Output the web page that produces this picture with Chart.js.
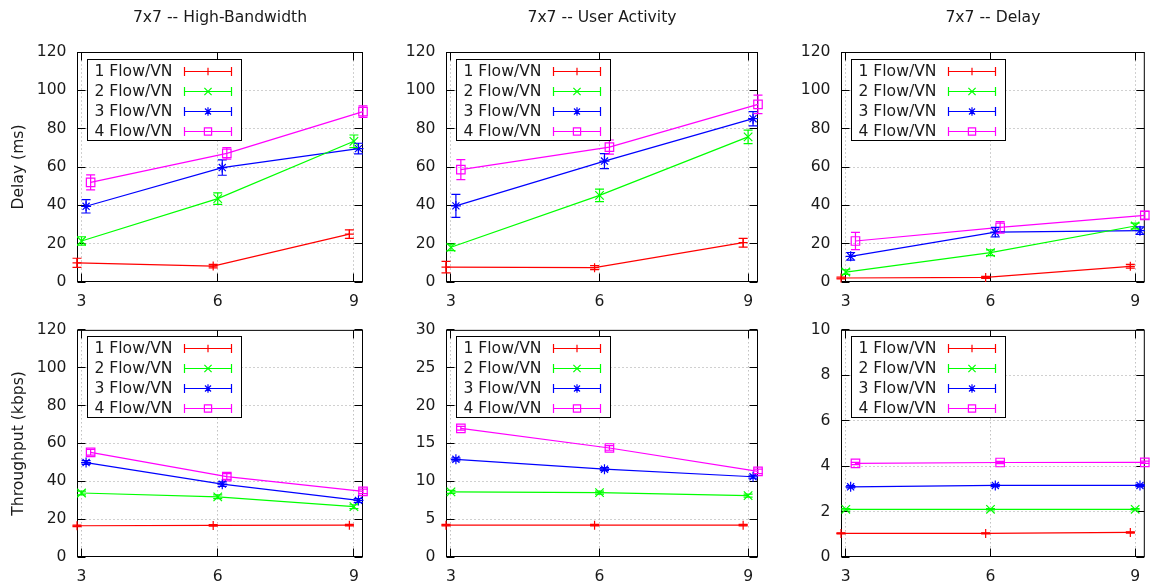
<!DOCTYPE html>
<html>
<head>
<meta charset="utf-8">
<title>7x7 scenarios: delay and throughput</title>
<script src="https://cdn.jsdelivr.net/npm/chart.js@4/dist/chart.umd.min.js"></script>
<style>
  html, body { margin: 0; padding: 0; background: #fff; }
  body { position: relative; width: 1152px; height: 587px; overflow: hidden; }
  canvas { position: absolute; }
</style>
</head>
<body>
<canvas id="hbDelay" width="380" height="310" style="left:0px;top:0px"></canvas>
<canvas id="uaDelay" width="390" height="310" style="left:380px;top:0px"></canvas>
<canvas id="dlDelay" width="382" height="310" style="left:770px;top:0px"></canvas>
<canvas id="hbTput" width="380" height="277" style="left:0px;top:310px"></canvas>
<canvas id="uaTput" width="390" height="277" style="left:380px;top:310px"></canvas>
<canvas id="dlTput" width="382" height="277" style="left:770px;top:310px"></canvas>
<script>
// ---- data -------------------------------------------------------------
const flowCounts = [3, 6, 9];
const seriesLabels = ['1 Flow/VN', '2 Flow/VN', '3 Flow/VN', '4 Flow/VN'];
const scenarioTitles = ['7x7 -- High-Bandwidth', '7x7 -- User Activity', '7x7 -- Delay'];
const delayAxisTitle = 'Delay (ms)';
const tputAxisTitle = 'Throughput (kbps)';

const delayTicks = [0, 20, 40, 60, 80, 100, 120];
const hbTputTicks = [0, 20, 40, 60, 80, 100, 120];
const uaTputTicks = [0, 5, 10, 15, 20, 25, 30];
const dlTputTicks = [0, 2, 4, 6, 8, 10];

// mean delay (ms) and error per series (rows) at 3, 6, 9 nodes
const hbDelayMean = [[10, 8.3, 25], [21.4, 43.5, 73.4], [39.5, 59.7, 69.6], [52, 67.1, 88.9]];
const hbDelayErr  = [[2.4, 0.9, 2.2], [2.2, 3, 3.3], [3.5, 4, 2.8], [3.9, 3, 3]];
const uaDelayMean = [[7.8, 7.5, 20.5], [18.1, 45.2, 75.7], [39.7, 63.1, 85.2], [58.6, 70.4, 92.7]];
const uaDelayErr  = [[3, 1, 2.3], [1.7, 3.3, 3.5], [6, 3.9, 3.7], [5.2, 3.7, 4.8]];
const dlDelayMean = [[2.1, 2.4, 8.2], [5.2, 15.3, 29.2], [13.4, 26, 26.8], [21.4, 28.5, 34.8]];
const dlDelayErr  = [[0.5, 0.5, 1], [1.2, 1.5, 1.5], [2, 2.5, 2], [4.5, 3, 2]];

// mean throughput (kbps) and error per series
const hbTputMean = [[16.5, 16.7, 16.8], [33.8, 31.8, 26.6], [49.9, 38.5, 29.9], [55.3, 42.5, 34.7]];
const hbTputErr  = [[0.4, 0.4, 0.4], [1, 1, 1], [1, 1.2, 1], [1.5, 1.5, 1.2]];
const uaTputMean = [[4.2, 4.2, 4.2], [8.6, 8.5, 8.1], [12.9, 11.6, 10.6], [17.0, 14.4, 11.3]];
const uaTputErr  = [[0.1, 0.1, 0.1], [0.2, 0.2, 0.2], [0.2, 0.2, 0.2], [0.25, 0.3, 0.3]];
const dlTputMean = [[1.04, 1.04, 1.08], [2.1, 2.1, 2.1], [3.09, 3.15, 3.15], [4.12, 4.16, 4.17]];
const dlTputErr  = [[0.02, 0.02, 0.03], [0.03, 0.03, 0.03], [0.05, 0.05, 0.05], [0.05, 0.05, 0.05]];

// ---- styling ----------------------------------------------------------
const seriesColors = ['#ff0000', '#00ff00', '#0000ff', '#ff00ff'];
const seriesShapes = ['cross', 'crossRot', 'star', 'rect'];
const seriesRadii = [4.5, 6, 5, 6];
const seriesShift = [-0.1, 0, 0.1, 0.2];   // stagger so the error bars stay apart
const xRange = [2.9, 9.2];
const textColor = '#1a1a1a';
const fontSpec = { family: "'DejaVu Sans', Verdana, sans-serif", size: 15.6 };

Chart.defaults.font.family = fontSpec.family;
Chart.defaults.font.size = fontSpec.size;
Chart.defaults.color = textColor;

// dotted grid, border box and inward tick marks on all four sides
const framePlugin = {
  id: 'frame',
  beforeDatasetsDraw(chart) {
    const { ctx, chartArea: a, scales: { x, y } } = chart;
    const snap = v => Math.floor(v) + 0.5;
    const L = a.left + 0.5, R = a.right - 0.5, T = a.top + 0.5, B = a.bottom - 0.5;
    ctx.save();
    ctx.lineWidth = 1;
    ctx.strokeStyle = '#a0a0a0';
    ctx.setLineDash([1, 3]);
    ctx.beginPath();
    x.ticks.forEach(t => {
      const px = snap(x.getPixelForValue(t.value));
      ctx.moveTo(px, T); ctx.lineTo(px, B);
    });
    y.ticks.forEach(t => {
      if (t.value === y.min || t.value === y.max) return;
      const py = snap(y.getPixelForValue(t.value));
      ctx.moveTo(L, py); ctx.lineTo(R, py);
    });
    ctx.stroke();
    ctx.setLineDash([]);
    ctx.strokeStyle = '#000';
    ctx.strokeRect(L, T, R - L, B - T);
    const tl = 8;
    ctx.beginPath();
    y.ticks.forEach(t => {
      const py = snap(y.getPixelForValue(t.value));
      ctx.moveTo(L, py); ctx.lineTo(L + tl, py);
      ctx.moveTo(R, py); ctx.lineTo(R - tl, py);
    });
    x.ticks.forEach(t => {
      const px = snap(x.getPixelForValue(t.value));
      ctx.moveTo(px, B); ctx.lineTo(px, B - tl);
      ctx.moveTo(px, T); ctx.lineTo(px, T + tl);
    });
    ctx.stroke();
    ctx.restore();
  }
};

// vertical error bars with caps, then the boxed key in the top-left corner
const errorKeyPlugin = {
  id: 'errorKey',
  afterDatasetsDraw(chart) {
    const { ctx, chartArea: a, scales: { y } } = chart;
    const cap = 4.5;
    ctx.save();
    ctx.lineWidth = 1.2;
    chart.data.datasets.forEach((ds, i) => {
      const meta = chart.getDatasetMeta(i);
      ctx.strokeStyle = ds.borderColor;
      ctx.beginPath();
      meta.data.forEach((pt, j) => {
        const v = ds.data[j].y, e = ds.errors[j];
        const y0 = y.getPixelForValue(v - e), y1 = y.getPixelForValue(v + e);
        const px = pt.x;
        ctx.moveTo(px, y0); ctx.lineTo(px, y1);
        ctx.moveTo(px - cap, y0); ctx.lineTo(px + cap, y0);
        ctx.moveTo(px - cap, y1); ctx.lineTo(px + cap, y1);
      });
      ctx.stroke();
    });

    // key
    const left = Math.floor(a.left) + 10.5, top = Math.floor(a.top) + 7.5;
    const w = 154, h = 81;
    ctx.lineWidth = 1;
    ctx.fillStyle = '#fff';
    ctx.fillRect(left, top, w, h);
    ctx.strokeStyle = '#000';
    ctx.strokeRect(left, top, w, h);
    ctx.font = `${fontSpec.size}px ${fontSpec.family}`;
    ctx.textAlign = 'right';
    ctx.textBaseline = 'middle';
    chart.data.datasets.forEach((ds, i) => {
      const ry = Math.round(top + 11 + i * 20.3) + 0.5;
      ctx.fillStyle = textColor;
      ctx.fillText(ds.label, left + 85, ry);
      const x1 = left + 97, x2 = left + 144;
      ctx.strokeStyle = ds.borderColor;
      ctx.lineWidth = 1.2;
      ctx.beginPath();
      ctx.moveTo(x1, ry); ctx.lineTo(x2, ry);
      ctx.moveTo(x1, ry - 4.5); ctx.lineTo(x1, ry + 4.5);
      ctx.moveTo(x2, ry - 4.5); ctx.lineTo(x2, ry + 4.5);
      ctx.stroke();
      ctx.strokeStyle = ds.borderColor;
      ctx.fillStyle = 'rgba(0,0,0,0)';
      Chart.helpers.drawPoint(ctx, {
        pointStyle: ds.pointStyle, radius: ds.pointRadius * 0.85, rotation: 0, borderWidth: 1.2
      }, (x1 + x2) / 2, ry);
    });
    ctx.restore();
  }
};

function makePanel(id, p) {
  const datasets = seriesLabels.map((label, i) => ({
    label,
    data: flowCounts.map((x, j) => ({ x: x + seriesShift[i], y: p.means[i][j] })),
    errors: p.errs[i],
    borderColor: seriesColors[i],
    backgroundColor: 'rgba(0,0,0,0)',
    borderWidth: 1.2,
    tension: 0,
    pointStyle: seriesShapes[i],
    pointRadius: seriesRadii[i],
    pointBorderColor: seriesColors[i],
    pointBackgroundColor: 'rgba(0,0,0,0)',
    pointBorderWidth: 1.2,
    clip: false
  }));
  return new Chart(document.getElementById(id), {
    type: 'line',
    data: { datasets },
    options: {
      responsive: false,
      animation: false,
      events: [],
      layout: { padding: { top: p.padTop, right: p.padRight, left: 0, bottom: 0 } },
      plugins: {
        legend: { display: false },
        tooltip: { enabled: false },
        title: p.title ? {
          display: true, text: p.title, fullSize: false, color: textColor,
          font: { size: fontSpec.size, weight: 'normal', lineHeight: 1.2 },
          padding: { top: 9, bottom: 24.28 }
        } : { display: false }
      },
      scales: {
        x: {
          type: 'linear', min: xRange[0], max: xRange[1],
          afterBuildTicks: s => { s.ticks = flowCounts.map(v => ({ value: v })); },
          afterFit: s => { s.height = p.xAxisH; },
          grid: { display: false, drawTicks: false },
          border: { display: false },
          ticks: { padding: 11, color: textColor, font: { size: fontSpec.size } }
        },
        y: {
          type: 'linear', min: p.ticks[0], max: p.ticks[p.ticks.length - 1],
          afterBuildTicks: s => { s.ticks = p.ticks.map(v => ({ value: v })); },
          afterFit: s => { s.width = p.yAxisW; },
          grid: { display: false, drawTicks: false },
          border: { display: false },
          ticks: { padding: 10.5, color: textColor, font: { size: fontSpec.size } },
          title: p.yTitle ? {
            display: true, text: p.yTitle, color: textColor,
            font: { size: fontSpec.size }, padding: { top: 9.5, bottom: 0 }
          } : { display: false }
        }
      }
    },
    plugins: [framePlugin, errorKeyPlugin]
  });
}

const colLayout = [
  { yAxisW: 77, padRight: 17 },
  { yAxisW: 66, padRight: 12 },
  { yAxisW: 71, padRight: 0 }
];

makePanel('hbDelay', { ...colLayout[0], means: hbDelayMean, errs: hbDelayErr, ticks: delayTicks,
  title: scenarioTitles[0], yTitle: delayAxisTitle, padTop: 0, xAxisH: 28 });
makePanel('uaDelay', { ...colLayout[1], means: uaDelayMean, errs: uaDelayErr, ticks: delayTicks,
  title: scenarioTitles[1], yTitle: null, padTop: 0, xAxisH: 28 });
makePanel('dlDelay', { ...colLayout[2], means: dlDelayMean, errs: dlDelayErr, ticks: delayTicks,
  title: scenarioTitles[2], yTitle: null, padTop: 0, xAxisH: 28 });
makePanel('hbTput', { ...colLayout[0], means: hbTputMean, errs: hbTputErr, ticks: hbTputTicks,
  title: null, yTitle: tputAxisTitle, padTop: 15, xAxisH: 30 });
makePanel('uaTput', { ...colLayout[1], means: uaTputMean, errs: uaTputErr, ticks: uaTputTicks,
  title: null, yTitle: null, padTop: 15, xAxisH: 30 });
makePanel('dlTput', { ...colLayout[2], means: dlTputMean, errs: dlTputErr, ticks: dlTputTicks,
  title: null, yTitle: null, padTop: 15, xAxisH: 30 });
</script>
</body>
</html>
